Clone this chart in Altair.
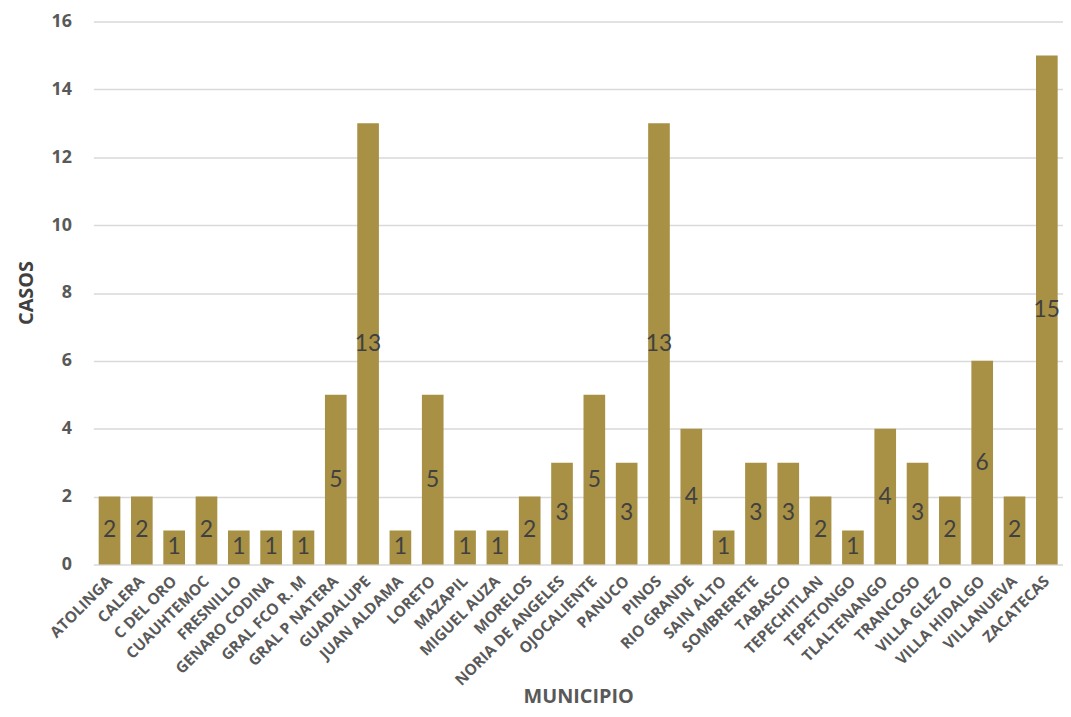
import altair as alt
import pandas as pd

municipios = ["ATOLINGA", "CALERA", "C DEL ORO", "CUAUHTEMOC", "FRESNILLO", "GENARO CODINA",
              "GRAL FCO R. M", "GRAL P NATERA", "GUADALUPE", "JUAN ALDAMA", "LORETO", "MAZAPIL",
              "MIGUEL AUZA", "MORELOS", "NORIA DE ANGELES", "OJOCALIENTE", "PANUCO", "PINOS",
              "RIO GRANDE", "SAIN ALTO", "SOMBRERETE", "TABASCO", "TEPECHITLAN", "TEPETONGO",
              "TLALTENANGO", "TRANCOSO", "VILLA GLEZ O", "VILLA HIDALGO", "VILLANUEVA", "ZACATECAS"]
casos = [2, 2, 1, 2, 1, 1, 1, 5, 13, 1, 5, 1, 1, 2, 3, 5, 3, 13, 4, 1, 3, 3, 2, 1, 4, 3, 2, 6, 2, 15]

df = pd.DataFrame({"MUNICIPIO": municipios, "CASOS": casos})

x = alt.X("MUNICIPIO:N", sort=municipios, title="MUNICIPIO",
          scale=alt.Scale(paddingInner=0.33, paddingOuter=0.165),
          axis=alt.Axis(labelAngle=-45, labelAlign="right", labelBaseline="middle",
                        labelPadding=14, ticks=False, domain=False,
                        labelFont="Open Sans", labelFontWeight="bold", labelFontSize=15.5,
                        labelColor="#595959",
                        titleFont="Open Sans", titleFontWeight="bold", titleFontSize=20,
                        titleColor="#595959", titleY=133, titleBaseline="middle"))

bars = alt.Chart(df).mark_bar(color="#A89045").encode(
    x=x,
    y=alt.Y("CASOS:Q", title="CASOS",
            scale=alt.Scale(domain=[0, 16]),
            axis=alt.Axis(values=list(range(0, 17, 2)), ticks=False, domain=False,
                          labelPadding=22, gridColor="#D9D9D9", gridWidth=1.5,
                          labelFont="Open Sans", labelFontWeight="bold", labelFontSize=18,
                          labelColor="#595959",
                          titleFont="Open Sans", titleFontWeight="bold", titleFontSize=20,
                          titleColor="#404040", titleX=-67, titleY=273,
                          titleBaseline="middle", titleAngle=-90)),
)

text = alt.Chart(df).transform_calculate(mid="datum.CASOS / 2").mark_text(
    font="Lato", fontSize=23, color="#404040", baseline="middle", align="center"
).encode(
    x=alt.X("MUNICIPIO:N", sort=municipios),
    y=alt.Y("mid:Q"),
    text="CASOS:Q",
)

chart = (bars + text).properties(
    width=977, height=547,
    autosize=alt.AutoSizeParams(type="none"),
    padding={"left": 86, "top": 11, "right": 0, "bottom": 143},
    background="white",
).configure_view(stroke=None)

chart.save("out.html", embed_options={"renderer": "svg", "actions": False})
